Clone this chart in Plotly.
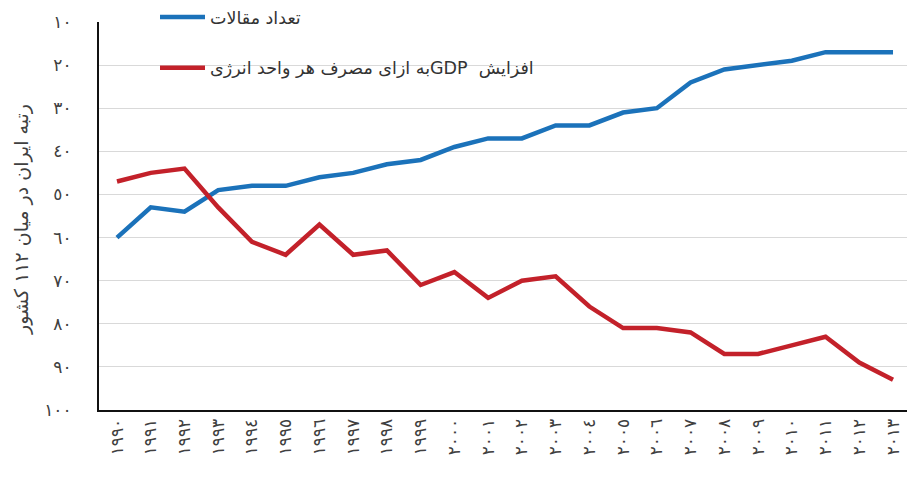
import plotly.graph_objects as go

years = list(range(1990, 2014))
articles_rank = [60, 53, 54, 49, 48, 48, 46, 45, 43, 42, 39, 37, 37, 34, 34, 31, 30, 24, 21, 20, 19, 17, 17, 17]
gdp_energy_rank = [47, 45, 44, 53, 61, 64, 57, 64, 63, 71, 68, 74, 70, 69, 76, 81, 81, 82, 87, 87, 85, 83, 89, 93]
y_ticks = [10, 20, 30, 40, 50, 60, 70, 80, 90, 100]

name_articles = "تعداد مقالات"
name_gdp = "افزایش  GDPبه ازای مصرف هر واحد انرژی"
y_title = "رتبه ایران در میان ١١٢ کشور"

AR_DIGITS = str.maketrans("0123456789", "٠١٢٣٤٥٦٧٨٩")


def ar(v):
    return str(v).translate(AR_DIGITS)


def rtl(s):
    return "\u202b" + s + "\u202c"


W, H = 907, 479
L, R, T, B = 99, 0, 22, 69
plot_w = W - L - R
plot_h = H - T - B
px_per_year = 33.74
x0 = 1990 - (117 - L) / px_per_year
x1 = 1990 + (W - 117) / px_per_year

FONT = "DejaVu Sans"

fig = go.Figure()
fig.add_trace(go.Scatter(
    x=years, y=articles_rank, mode="lines", name=rtl(name_articles),
    line=dict(color="#1b72ba", width=4.5), legendgroup="a",
))
fig.add_trace(go.Scatter(
    x=years, y=gdp_energy_rank, mode="lines", name=rtl(name_gdp),
    line=dict(color="#c3212a", width=4.5), legendgroup="b",
))

fig.update_layout(
    width=W, height=H,
    margin=dict(l=L, r=R, t=T, b=B, autoexpand=False),
    paper_bgcolor="white", plot_bgcolor="white",
    font=dict(family=FONT, color="#333333"),
    showlegend=True,
    legend=dict(
        x=(155 - L) / plot_w, xanchor="left",
        y=1 + (T + 1) / plot_h, yanchor="top",
        bgcolor="rgba(0,0,0,0)",
        font=dict(family=FONT, size=17.5, color="#333333"),
        tracegroupgap=25, traceorder="grouped",
        itemwidth=45,
    ),
    xaxis=dict(
        range=[x0, x1],
        tickvals=years, ticktext=[ar(y) for y in years],
        tickangle=-90,
        tickfont=dict(family=FONT, size=17, color="#404040"),
        showgrid=False, zeroline=False,
        showline=True, linecolor="#111111", linewidth=2,
        ticks="", automargin=False,
    ),
    yaxis=dict(
        range=[100, 10],
        tickvals=y_ticks, ticktext=[ar(v) for v in y_ticks],
        tickfont=dict(family=FONT, size=17, color="#404040"),
        showgrid=True, gridcolor="#d9d9d9", gridwidth=1,
        zeroline=False,
        showline=True, linecolor="#111111", linewidth=2,
        ticks="", ticklabelstandoff=22, automargin=False,
    ),
)

fig.add_annotation(
    text=rtl(y_title), textangle=-90,
    xref="paper", yref="paper",
    x=(22 - L) / plot_w, y=0.49, xanchor="center", yanchor="middle",
    showarrow=False,
    font=dict(family=FONT, size=19, color="#404040"),
)

fig.write_html(
    "out.html",
    config={"displayModeBar": False},
    post_script="document.body.style.margin='0';document.body.style.overflow='hidden';",
)
